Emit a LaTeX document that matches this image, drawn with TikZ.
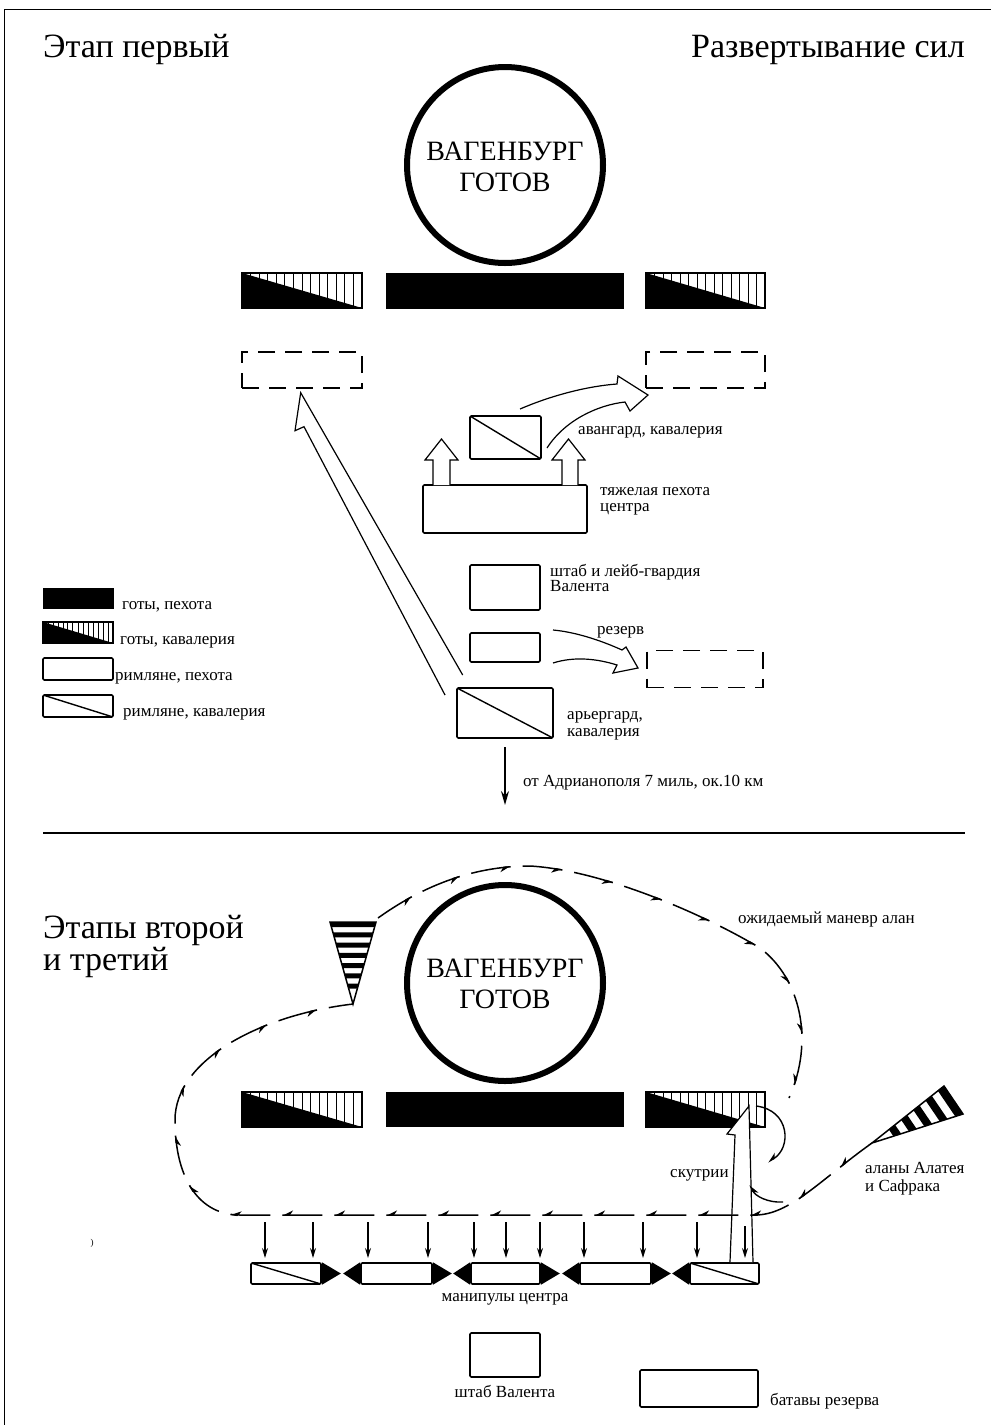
\documentclass[tikz,border=0pt]{standalone}
\usepackage{fontspec}
\setmainfont{Liberation Serif}
\usetikzlibrary{calc,arrows.meta,decorations.markings}
\begin{document}
\begin{tikzpicture}[x=1pt,y=-1pt,
  lab/.style={font=\fontsize{17}{19}\selectfont, inner sep=0, anchor=base west},
  ttl/.style={font=\fontsize{34}{36}\selectfont, inner sep=0},
  wag/.style={font=\fontsize{28}{30}\selectfont, inner sep=0, anchor=base},
  box/.style={draw, line width=1.6pt, rounded corners=1.2pt, inner sep=0, fill=white},
  rcav/.style={box, path picture={\draw[black, line width=1.4pt] (path picture bounding box.north west) -- (path picture bounding box.south east);}},
  ginf/.style={draw, fill=black, line width=1pt, inner sep=0},
  gcav/.style={draw, line width=1.2pt, inner sep=0, fill=white, path picture={
     \coordinate (sw) at (path picture bounding box.south west);
     \coordinate (ne) at (path picture bounding box.north east);
     \foreach \i in {1,...,13}{\draw[black, line width=1pt] ($(sw)!\i/14!(sw-|ne)$) -- ($(sw|-ne)!\i/14!(ne)$);}
     \fill[black] (sw|-ne) -- (ne|-sw) -- (sw) -- cycle;}},
  ghost/.style={draw, line width=1.3pt, dash pattern=on 17pt off 10pt, inner sep=0},
  hollow/.style={draw, line width=1.2pt, fill=white, line join=miter},
  darr/.style={line width=1.3pt, -{Stealth[length=10pt,width=6pt]}},
  barb/.style={line width=1.4pt, -{Stealth[harpoon,swap,length=9pt,width=9pt]}},
  manv/.style={line width=1.5pt, dash pattern=on 40pt off 12pt, postaction={decorate},
    decoration={markings,
      mark=between positions 40pt and 1 step 52pt with {\arrow{Stealth[harpoon,swap,length=9pt,width=9pt]}},
      mark=at position 1 with {\arrow{Stealth[harpoon,swap,length=9pt,width=9pt]}}}},
  wagon/.style={circle, draw, line width=6pt, minimum size=196, inner sep=0}
]
\useasboundingbox (0,0) rectangle (991,1425);
% frame
\draw[line width=1pt] (4,1425) -- (4,9) -- (991,9);
% ---------------- first stage ----------------
\node[ttl, anchor=base west] (t1) at (43,57) {Этап первый};
\node[ttl, anchor=base east] (t2) at (965,57) {Развертывание сил};
\node[wagon] (w1) at (505,165) {};
\node[wag] (w1a) at (505,160) {ВАГЕНБУРГ};
\node[wag] (w1b) at (505,191) {ГОТОВ};

\node[gcav, minimum width=120, minimum height=35] (gl1) at (302,290.5) {};
\node[ginf, minimum width=237, minimum height=35] (gc1) at (504.5,290.5) {};
\node[gcav, minimum width=119, minimum height=35] (gr1) at (705.5,290.5) {};

\node[ghost, minimum width=120, minimum height=36] (dl) at (302,370) {};
\node[ghost, minimum width=119, minimum height=36] (dr) at (705.5,370) {};
\node[ghost, minimum width=116, minimum height=37] (dd) at (705,669) {};

\node[rcav, minimum width=71, minimum height=43] (av) at (505.5,437.5) {};
\node[box, minimum width=164, minimum height=48] (hi) at (505,509) {};
\node[box, minimum width=70, minimum height=45] (st) at (505,587.5) {};
\node[box, minimum width=70, minimum height=29] (rs) at (505,647.5) {};
\node[rcav, minimum width=96, minimum height=50] (rg) at (505,713) {};

% hollow up arrows from heavy infantry
\draw[hollow] (433,485) -- (433,460) -- (425,460) -- (441.5,439) -- (458,460) -- (450,460) -- (450,485);
\draw[hollow] (562,485) -- (562,460) -- (552,460) -- (568.5,439) -- (585,460) -- (578,460) -- (578,485);
% vanguard curved hollow arrow
\draw[hollow, fill=none] (520,409) .. controls (555,394) and (590,386) .. (617,384) -- (618,376) -- (648,395) -- (630,411) -- (625,402) .. controls (598,405) and (565,420) .. (547,448);
% reserve curved hollow arrow
\draw[hollow, fill=none] (553,630) .. controls (575,632) and (600,640) .. (622,650) -- (626,647) -- (638,668) -- (613,673) -- (617,665) .. controls (598,659) and (575,656) .. (553,663);
% long hollow arrow (rearguard to left)
\draw[hollow, fill=none] (445,695) -- (304,426.7) -- (295,430.7) -- (300.7,392.7) -- (462.7,675);
% down arrow
\coordinate (ad1) at (505,747);
\coordinate (ad2) at (505,805);
\draw[line width=1.5pt, -{Stealth[length=14pt,width=8pt]}] (ad1) -- (ad2);

\node[lab] at (578,434) {авангард, кавалерия};
\node[lab] at (600,495) {тяжелая пехота};
\node[lab] at (600,511) {центра};
\node[lab] at (550,576) {штаб и лейб-гвардия};
\node[lab] at (550,591) {Валента};
\node[lab] at (597,634) {резерв};
\node[lab] at (567,719) {арьергард,};
\node[lab] at (567,736) {кавалерия};
\node[lab] at (523,786) {от Адрианополя 7 миль, ок.10 км};

% legend
\node[ginf, minimum width=70, minimum height=20] (lg1) at (78,598) {};
\node[gcav, minimum width=70, minimum height=21] (lg2) at (78,632.5) {};
\node[box, minimum width=70, minimum height=22] (lg3) at (78,669) {};
\node[rcav, minimum width=70, minimum height=22] (lg4) at (78,706) {};
\node[lab] at (122,609) {готы, пехота};
\node[lab] at (120,644) {готы, кавалерия};
\node[lab] at (115,680) {римляне, пехота};
\node[lab] at (123,716) {римляне, кавалерия};

% divider
\draw[line width=1.2pt] (43,833) -- (965,833);

% ---------------- second and third stage ----------------
\node[font=\fontsize{34}{28}\selectfont, inner sep=0, align=left, anchor=north west] (t3) at (43,915) {Этапы второй\\и третий};
\node[wagon] (w2) at (505,983) {};
\node[wag] at (505,977) {ВАГЕНБУРГ};
\node[wag] at (505,1008) {ГОТОВ};

\node[gcav, minimum width=120, minimum height=35] (gl2) at (302,1109.5) {};
\node[ginf, minimum width=237, minimum height=34] (gc2) at (504.5,1109) {};
\node[gcav, minimum width=119, minimum height=35] (gr2) at (705.5,1109.5) {};

% left triangle (horizontal stripes)
\coordinate (lt1) at (330,922);
\coordinate (lt2) at (376,922);
\coordinate (ltt) at (353,1004);
\fill[white] (lt1) -- (lt2) -- (ltt) -- cycle;
\foreach \i in {0,...,6}{
  \pgfmathsetmacro\pa{1-\i*0.125}\pgfmathsetmacro\pb{\pa-0.062}
  \fill ($(ltt)!\pa!(lt1)$) -- ($(ltt)!\pb!(lt1)$) -- ($(ltt)!\pb!(lt2)$) -- ($(ltt)!\pa!(lt2)$) -- cycle;}
\draw[line width=1.5pt, line join=miter] (lt1) -- (lt2) -- (ltt) -- cycle;

% right triangle (alans)
\coordinate (rt1) at (944,1086);
\coordinate (rt2) at (963,1114);
\coordinate (rtt) at (872,1143);
\fill[white] (rt1) -- (rt2) -- (rtt) -- cycle;
\foreach \i in {0,...,4}{
  \pgfmathsetmacro\pa{1-\i*0.17}\pgfmathsetmacro\pb{\pa-0.085}
  \fill ($(rtt)!\pa!(rt1)$) -- ($(rtt)!\pb!(rt1)$) -- ($(rtt)!\pb!(rt2)$) -- ($(rtt)!\pa!(rt2)$) -- cycle;}
\draw[line width=1.5pt, line join=miter] (rt1) -- (rt2) -- (rtt) -- cycle;

% manipuli row
\node[rcav, minimum width=70, minimum height=21] (m1) at (286,1273.5) {};
\node[box, minimum width=71, minimum height=21] (m2) at (396.5,1273.5) {};
\node[box, minimum width=69, minimum height=21] (m3) at (505.5,1273.5) {};
\node[box, minimum width=71, minimum height=21] (m4) at (615.5,1273.5) {};
\node[rcav, minimum width=69, minimum height=21] (m5) at (724.5,1273.5) {};
\foreach \m in {m1,m2,m3,m4}{
  \fill (\m.north east) -- (\m.south east) -- ($(\m.east)+(19,0)$) -- cycle;}
\foreach \m in {m2,m3,m4,m5}{
  \fill (\m.north west) -- (\m.south west) -- ($(\m.west)+(-17,0)$) -- cycle;}

% scutarii hollow arrow
\draw[hollow] (730,1262) -- (735,1135) -- (727,1134) -- (749,1106) -- (753,1262);
\draw[darr] (745,1226) -- (745,1258);

% down arrows onto manipuli
\foreach \x in {265,313,368,428,474,506,540,584,643,697}{
  \draw[darr] (\x,1222) -- (\x,1258);}

% expected alan manoeuvre
\draw[manv] (rtt) .. controls (820,1180) and (790,1215) .. (755,1215) -- (240,1215) .. controls (200,1215) and (175,1180) .. (175,1120) .. controls (175,1060) and (260,1015) .. (ltt);
\draw[manv] (378,918) .. controls (420,888) and (470,866) .. (530,866) .. controls (600,870) and (700,912) .. (760,948) .. controls (800,978) and (815,1040) .. (789,1098);

% scutarii curved arrows
\draw[barb] (756,1106) .. controls (790,1110) and (792,1148) .. (768,1162);
\draw[barb] (783,1202) .. controls (768,1203) and (755,1196) .. (750,1185);

\node[lab] at (738,923) {ожидаемый маневр алан};
\node[lab] at (670,1177) {скутрии};
\node[lab] at (865,1173) {аланы Алатея};
\node[lab] at (865,1191) {и Сафрака};
\node[lab, anchor=base] at (505,1301) {манипулы центра};
\node[font=\fontsize{9}{9}\selectfont, inner sep=0] at (92,1243) {)};

% bottom
\node[box, minimum width=70, minimum height=44] (sv) at (505,1355) {};
\node[lab, anchor=base] at (505,1397) {штаб Валента};
\node[box, minimum width=118, minimum height=37] (bt) at (699,1388.5) {};
\node[lab] at (770,1405) {батавы резерва};
\end{tikzpicture}
\end{document}
